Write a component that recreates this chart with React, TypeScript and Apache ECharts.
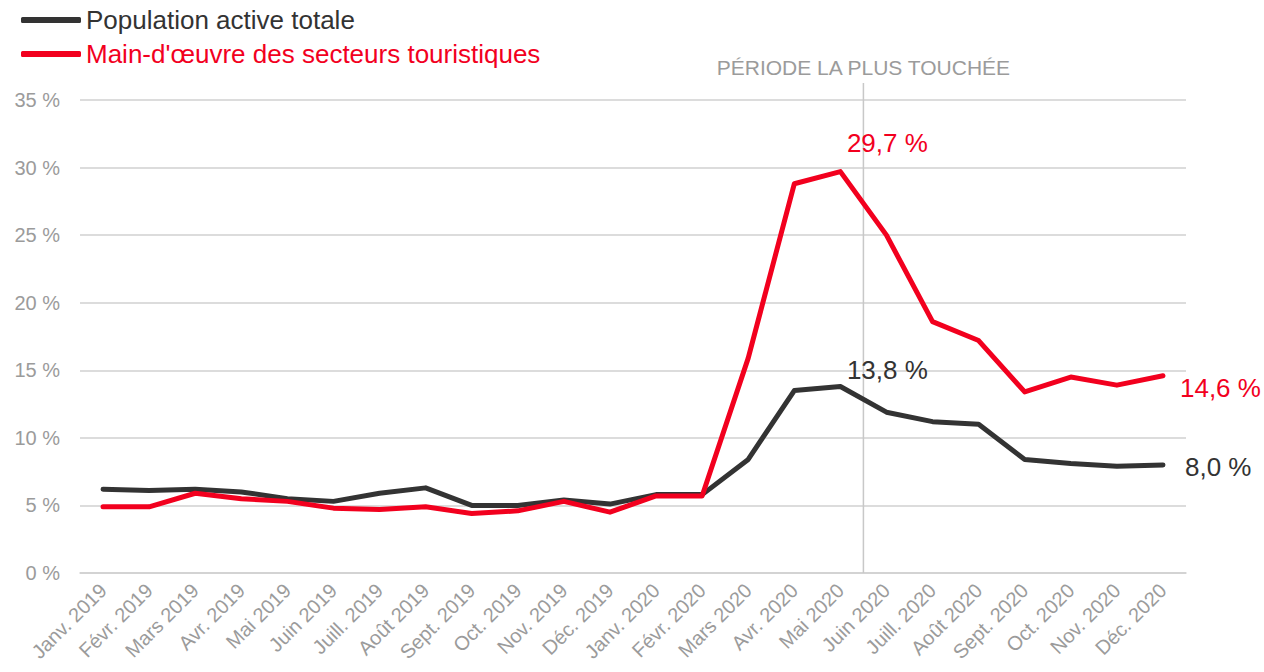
import React, { useEffect, useRef } from "react";
import * as echarts from "echarts";

const categories = [
  "Janv. 2019", "Févr. 2019", "Mars 2019", "Avr. 2019", "Mai 2019", "Juin 2019",
  "Juill. 2019", "Août 2019", "Sept. 2019", "Oct. 2019", "Nov. 2019", "Déc. 2019",
  "Janv. 2020", "Févr. 2020", "Mars 2020", "Avr. 2020", "Mai 2020", "Juin 2020",
  "Juill. 2020", "Août 2020", "Sept. 2020", "Oct. 2020", "Nov. 2020", "Déc. 2020",
];

const populationTotale = [
  6.2, 6.1, 6.2, 6.0, 5.5, 5.3, 5.9, 6.3, 5.0, 5.0, 5.4, 5.1,
  5.8, 5.8, 8.4, 13.5, 13.8, 11.9, 11.2, 11.0, 8.4, 8.1, 7.9, 8.0,
];

const mainOeuvreTourisme = [
  4.9, 4.9, 5.9, 5.5, 5.3, 4.8, 4.7, 4.9, 4.4, 4.6, 5.3, 4.5,
  5.7, 5.7, 15.9, 28.8, 29.7, 25.0, 18.6, 17.2, 13.4, 14.5, 13.9, 14.6,
];

const yTicks = [0, 5, 10, 15, 20, 25, 30, 35];
const seriesNames = ["Population active totale", "Main-d'œuvre des secteurs touristiques"];
const periodTitle = "PÉRIODE LA PLUS TOUCHÉE";
const periodAfterIndex = 16; // line between Mai 2020 and Juin 2020

const BLACK = "#333333";
const RED = "#f2001e";
const GRAY = "#9b9b9b";
const FONT = "'Liberation Sans', Arial, sans-serif";

const GRID = { left: 80, right: 78, top: 100, bottom: 99 };
const W = 1264;
const H = 672;

function fmt(v: number) {
  return v.toFixed(1).replace(".", ",") + " %";
}

function lbl(color: string, position: string, distance: number, offset: number[], v: number) {
  return {
    show: true,
    position,
    distance,
    offset,
    color,
    fontSize: 26,
    fontFamily: FONT,
    formatter: fmt(v),
  };
}

export default function App() {
  const ref = useRef<HTMLDivElement>(null);

  useEffect(() => {
    document.body.style.margin = "0";
    const chart = echarts.init(ref.current!, undefined, { renderer: "svg" });

    const peakIdx = 16;
    const lastIdx = categories.length - 1;

    const blackData = populationTotale.map((v, i) => {
      if (i === peakIdx) return { value: v, label: lbl(BLACK, "top", 4, [47, 0], v) };
      if (i === lastIdx) return { value: v, label: lbl(BLACK, "right", 22, [0, 2], v) };
      return v;
    });

    const redData = mainOeuvreTourisme.map((v, i) => {
      if (i === peakIdx) return { value: v, label: lbl(RED, "top", 16, [47, 0], v) };
      if (i === lastIdx) return { value: v, label: lbl(RED, "right", 17, [0, 12], v) };
      return v;
    });

    const plotW = W - GRID.left - GRID.right;
    const lineX = GRID.left + (plotW * (periodAfterIndex + 1)) / categories.length;

    chart.setOption({
      animation: false,
      textStyle: { fontFamily: FONT },
      grid: { ...GRID, containLabel: false },
      legend: {
        orient: "vertical",
        left: 16,
        top: 2,
        itemWidth: 60,
        itemHeight: 6,
        itemGap: 8,
        icon: "roundRect",
        textStyle: { fontSize: 26, fontFamily: FONT },
        selectedMode: false,
        data: [
          { name: seriesNames[0], textStyle: { color: BLACK } },
          { name: seriesNames[1], textStyle: { color: RED } },
        ],
      },
      xAxis: {
        type: "category",
        data: categories,
        boundaryGap: true,
        axisLine: { show: true, lineStyle: { color: "#d0d0d0", width: 1.5 } },
        axisTick: { show: false },
        axisLabel: { rotate: 45, color: GRAY, fontSize: 20, fontFamily: FONT, margin: 14, interval: 0 },
      },
      yAxis: {
        type: "value",
        min: yTicks[0],
        max: yTicks[yTicks.length - 1],
        interval: 5,
        axisLine: { show: false },
        axisTick: { show: false },
        splitLine: { lineStyle: { color: "#d0d0d0", width: 1.5 } },
        axisLabel: { color: GRAY, fontSize: 20, fontFamily: FONT, margin: 20, formatter: (v: number) => v + " %" },
      },
      graphic: [
        {
          type: "line",
          shape: { x1: lineX, y1: 83, x2: lineX, y2: H - GRID.bottom },
          style: { stroke: "#c8c8c8", lineWidth: 1.5 },
          z: 1,
        },
        {
          type: "text",
          x: lineX,
          y: 67,
          style: { text: periodTitle, fill: GRAY, fontSize: 21, fontFamily: FONT, textAlign: "center", textVerticalAlign: "middle" },
        },
      ],
      series: [
        {
          name: seriesNames[0],
          type: "line",
          data: blackData,
          showSymbol: true,
          symbol: "circle",
          symbolSize: 0,
          color: BLACK,
          lineStyle: { color: BLACK, width: 5, cap: "round", join: "round" },
          z: 3,
        },
        {
          name: seriesNames[1],
          type: "line",
          data: redData,
          showSymbol: true,
          symbol: "circle",
          symbolSize: 0,
          color: RED,
          lineStyle: { color: RED, width: 5, cap: "round", join: "round" },
          z: 4,
        },
      ],
    });

    return () => chart.dispose();
  }, []);

  return <div ref={ref} style={{ width: W, height: H }} />;
}
